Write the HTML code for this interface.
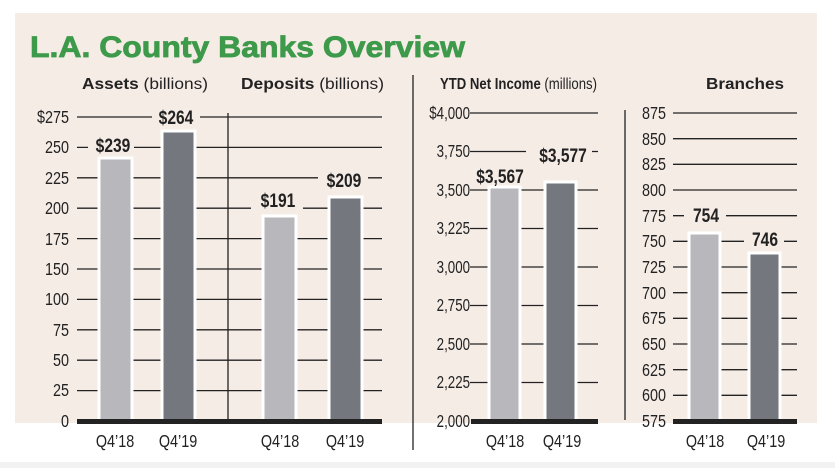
<!DOCTYPE html>
<html><head><meta charset="utf-8"><style>
html,body{margin:0;padding:0;background:#fff;}
svg{display:block;}
text{font-family:"Liberation Sans",sans-serif;fill:#222;}
</style></head><body>
<svg width="835" height="468" viewBox="0 0 835 468" xmlns="http://www.w3.org/2000/svg">
<rect x="15" y="13" width="802" height="410" fill="#f6ece6"/>
<text x="30" y="57" font-weight="bold" font-size="30" textLength="435" lengthAdjust="spacingAndGlyphs" style="fill:#3d9a4a;stroke:#3d9a4a;stroke-width:0.8">L.A. County Banks Overview</text>
<text x="82" y="89" font-size="16" font-weight="bold" textLength="126" lengthAdjust="spacingAndGlyphs">Assets <tspan font-weight="normal">(billions)</tspan></text>
<text x="241" y="89" font-size="16" font-weight="bold" textLength="143" lengthAdjust="spacingAndGlyphs">Deposits <tspan font-weight="normal">(billions)</tspan></text>
<text x="440" y="89" font-size="16" font-weight="bold" textLength="157" lengthAdjust="spacingAndGlyphs">YTD Net Income <tspan font-weight="normal">(millions)</tspan></text>
<text x="706" y="89" font-size="16" font-weight="bold" textLength="78" lengthAdjust="spacingAndGlyphs">Branches</text>
<g stroke="#222" stroke-width="1.3">
<line x1="77" y1="117" x2="382" y2="117"/><line x1="77" y1="147.4" x2="382" y2="147.4"/><line x1="77" y1="177.8" x2="382" y2="177.8"/><line x1="77" y1="208.2" x2="382" y2="208.2"/><line x1="77" y1="238.6" x2="382" y2="238.6"/><line x1="77" y1="269" x2="382" y2="269"/><line x1="77" y1="299.4" x2="382" y2="299.4"/><line x1="77" y1="329.8" x2="382" y2="329.8"/><line x1="77" y1="360.2" x2="382" y2="360.2"/><line x1="77" y1="390.6" x2="382" y2="390.6"/>
<line x1="228" y1="113" x2="228" y2="421"/>
<line x1="470" y1="113" x2="598" y2="113"/><line x1="470" y1="151.5" x2="598" y2="151.5"/><line x1="470" y1="190" x2="598" y2="190"/><line x1="470" y1="228.5" x2="598" y2="228.5"/><line x1="470" y1="267" x2="598" y2="267"/><line x1="470" y1="305.5" x2="598" y2="305.5"/><line x1="470" y1="344" x2="598" y2="344"/><line x1="470" y1="382.5" x2="598" y2="382.5"/>
<line x1="413" y1="75" x2="413" y2="450"/>
<line x1="625" y1="110" x2="625" y2="420"/>
<line x1="673" y1="113" x2="797" y2="113"/><line x1="673" y1="138.7" x2="797" y2="138.7"/><line x1="673" y1="164.3" x2="797" y2="164.3"/><line x1="673" y1="190" x2="797" y2="190"/><line x1="673" y1="215.7" x2="797" y2="215.7"/><line x1="673" y1="241.3" x2="797" y2="241.3"/><line x1="673" y1="267" x2="797" y2="267"/><line x1="673" y1="292.7" x2="797" y2="292.7"/><line x1="673" y1="318.3" x2="797" y2="318.3"/><line x1="673" y1="344" x2="797" y2="344"/><line x1="673" y1="369.7" x2="797" y2="369.7"/><line x1="673" y1="395.3" x2="797" y2="395.3"/>
</g>
<g stroke="#fff" stroke-width="3">
<rect x="99" y="158" width="33" height="264" fill="#b8b8bc"/>
<rect x="162" y="131" width="33" height="291" fill="#74777d"/>
<rect x="263" y="216" width="33" height="206" fill="#b8b8bc"/>
<rect x="329" y="197" width="33" height="225" fill="#74777d"/>
<rect x="489" y="187" width="31" height="235" fill="#b8b8bc"/>
<rect x="545" y="182" width="31" height="240" fill="#74777d"/>
<rect x="689" y="233" width="31" height="189" fill="#b8b8bc"/>
<rect x="749" y="253" width="31" height="169" fill="#74777d"/>
</g>
<g fill="#f6ece6">
<rect x="88" y="136" width="46" height="20"/><rect x="152" y="104" width="48" height="22"/>
<rect x="251" y="188" width="52" height="24"/><rect x="318" y="166" width="50" height="24"/>
<rect x="470" y="163" width="56" height="22"/><rect x="526" y="142" width="66" height="24"/>
<rect x="684" y="201" width="42" height="24"/><rect x="744" y="226" width="40" height="22"/>
</g>
<g fill="#222">
<rect x="77" y="419" width="305" height="5"/>
<rect x="471" y="419" width="127" height="5"/>
<rect x="673" y="419" width="124" height="5"/>
</g>
<g font-size="19" font-weight="bold" text-anchor="middle">
<g transform="translate(113,152) scale(0.82,1)"><text>$239</text></g>
<g transform="translate(176,124) scale(0.82,1)"><text>$264</text></g>
<g transform="translate(278,207) scale(0.82,1)"><text>$191</text></g>
<g transform="translate(344,187) scale(0.82,1)"><text>$209</text></g>
<g transform="translate(500,183) scale(0.82,1)"><text>$3,567</text></g>
<g transform="translate(563,162) scale(0.82,1)"><text>$3,577</text></g>
<g transform="translate(706,222) scale(0.82,1)"><text>754</text></g>
<g transform="translate(765,246) scale(0.82,1)"><text>746</text></g>
</g>
<g font-size="18" text-anchor="end">
<g transform="translate(69,0) scale(0.8,1)"><text y="123">$275</text><text y="153">250</text><text y="184">225</text><text y="214">200</text><text y="245">175</text><text y="275">150</text><text y="305">100</text><text y="336">75</text><text y="366">50</text><text y="396">25</text><text y="427">0</text></g>
<g transform="translate(470,0) scale(0.74,1)"><text y="119">$4,000</text><text y="157">3,750</text><text y="196">3,500</text><text y="234">3,225</text><text y="273">3,000</text><text y="311">2,750</text><text y="350">2,500</text><text y="388">2,225</text><text y="427">2,000</text></g>
<g transform="translate(666,0) scale(0.8,1)"><text y="119">875</text><text y="145">850</text><text y="170">825</text><text y="196">800</text><text y="222">775</text><text y="247">750</text><text y="273">725</text><text y="299">700</text><text y="324">675</text><text y="350">650</text><text y="376">625</text><text y="401">600</text><text y="427">575</text></g>
</g>
<g font-size="18" text-anchor="middle">
<g transform="translate(115,447) scale(0.8,1)"><text>Q4’18</text></g>
<g transform="translate(178,447) scale(0.8,1)"><text>Q4’19</text></g>
<g transform="translate(280,447) scale(0.8,1)"><text>Q4’18</text></g>
<g transform="translate(345,447) scale(0.8,1)"><text>Q4’19</text></g>
<g transform="translate(505,447) scale(0.8,1)"><text>Q4’18</text></g>
<g transform="translate(562,447) scale(0.8,1)"><text>Q4’19</text></g>
<g transform="translate(705,447) scale(0.8,1)"><text>Q4’18</text></g>
<g transform="translate(766,447) scale(0.8,1)"><text>Q4’19</text></g>
</g>
<rect x="0" y="462" width="835" height="6" fill="#f2f2f2"/>
</svg>
</body></html>
